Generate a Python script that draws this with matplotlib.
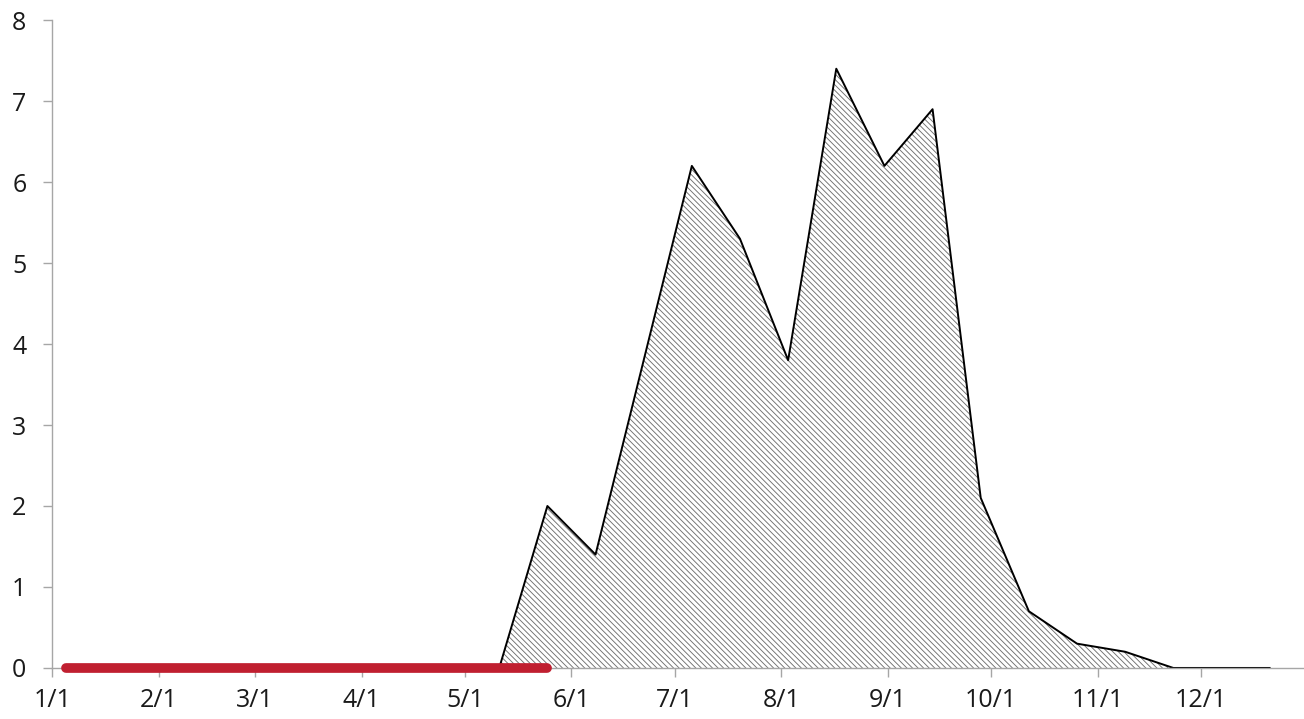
import numpy as np
import pandas as pd
import matplotlib
matplotlib.use('Agg')
from matplotlib import pyplot as plt

# biweekly values, starting 2019-01-05
start = '2019-01-05'
values = [0, 0, 0, 0, 0, 0, 0, 0, 0,
          0, 2.0, 1.4, 3.8, 6.2, 5.3, 3.8, 7.4, 6.2, 6.9,
          2.1, 0.7, 0.3, 0.2, 0, 0, 0]
dates = pd.date_range(start, periods=len(values), freq='14D')

# red period bar along zero
period_start = '2019-01-05'
period_end = '2019-05-25'

tick_dates = pd.date_range('2019-01-01', '2019-12-01', freq='MS')
tick_labels = [f'{d.month}/{d.day}' for d in tick_dates]

plt.rcParams['font.family'] = ['Open Sans', 'DejaVu Sans']
plt.rcParams['hatch.linewidth'] = 0.65
plt.rcParams['hatch.color'] = '#707070'

fig = plt.figure(figsize=(13.04, 7.19), dpi=100)
ax = fig.add_axes([0.040, 0.071, 0.960, 0.901])

ax.fill_between(dates, values, 0, facecolor='white', edgecolor='#707070',
                hatch='\\\\\\\\\\\\', linewidth=0)
ax.plot(dates, values, color='black', lw=1.4)
ax.plot(pd.to_datetime([period_start, period_end]), [0, 0], color='#C01F30',
        lw=7, solid_capstyle='round', zorder=5, clip_on=False)

ax.set_xlim(pd.Timestamp('2019-01-01'), pd.Timestamp('2019-12-31'))
ax.set_ylim(0, 8)
ax.set_xticks(tick_dates)
ax.set_xticklabels(tick_labels)
ax.set_yticks(range(9))

for s in ['top', 'right']:
    ax.spines[s].set_visible(False)
for s in ['left', 'bottom']:
    ax.spines[s].set_color('#a6a6a6')
    ax.spines[s].set_linewidth(1)
ax.tick_params(axis='both', colors='#a6a6a6', labelcolor='#1a1a1a',
               labelsize=18, length=6.5, width=1)
ax.tick_params(axis='y', pad=12)
ax.tick_params(axis='x', pad=8)

fig.savefig('out.png', dpi=100)
